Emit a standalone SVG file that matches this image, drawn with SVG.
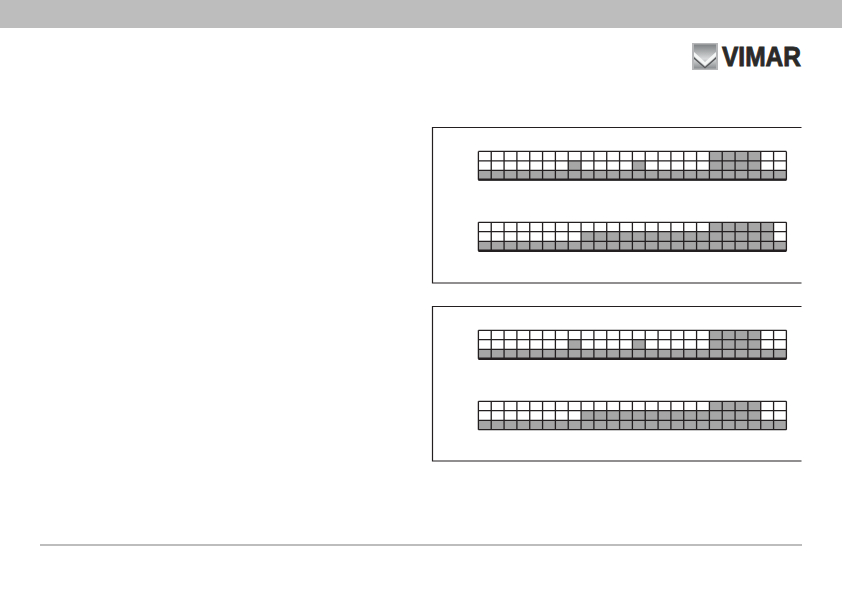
<svg xmlns="http://www.w3.org/2000/svg" width="842" height="590" viewBox="0 0 842 590">
<style>
.f{fill:#a6a6a6}
.l{fill:none;stroke:#231f20;stroke-width:1.3}
.b{fill:none;stroke:#231f20;stroke-width:1.2}
.t{fill:none;stroke:#231f20;stroke-width:2.4}
</style>
<defs>
<linearGradient id="ig" x1="0" y1="0" x2="0" y2="1"><stop offset="0" stop-color="#7f8284"/><stop offset="0.6" stop-color="#d8dadb"/><stop offset="1" stop-color="#8a8d8f"/></linearGradient>
<path id="lines" d="M0 0H308M0 9.4H308M0 19H308M0 28.4H308M0 0V28.4M12.83 0V28.4M25.67 0V28.4M38.5 0V28.4M51.33 0V28.4M64.17 0V28.4M77 0V28.4M89.83 0V28.4M102.67 0V28.4M115.5 0V28.4M128.33 0V28.4M141.17 0V28.4M154 0V28.4M166.83 0V28.4M179.67 0V28.4M192.5 0V28.4M205.33 0V28.4M218.17 0V28.4M231 0V28.4M243.83 0V28.4M256.67 0V28.4M269.5 0V28.4M282.33 0V28.4M295.17 0V28.4M308 0V28.4"/>
<g id="rowA"><rect class="f" x="231" y="0" width="51.33" height="19"/><rect class="f" x="89.83" y="9.4" width="12.83" height="9.6"/><rect class="f" x="154" y="9.4" width="12.83" height="9.6"/><rect class="f" x="0" y="19" width="308" height="9.4"/></g>
</defs>
<rect id="header" x="0" y="0" width="842" height="28" fill="#bdbdbd"/>
<g id="logo">
<rect x="692" y="43" width="26" height="27" fill="#b5b7b8"/>
<rect x="694" y="44.5" width="22" height="24" fill="url(#ig)"/>
<path d="M694 52L705 62L716 52V56L705 66L694 56Z" fill="#f4f5f5"/>
<path d="M694 57L705 67L716 57V59L705 68.5L694 59Z" fill="#555759"/>
<text x="722" y="65.7" font-family="Liberation Sans, Arial, sans-serif" font-weight="700" font-size="28" textLength="79" lengthAdjust="spacingAndGlyphs" fill="#2b2a29" stroke="#2b2a29" stroke-width="0.9">VIMAR</text>
</g>
<g id="panel-1">
<path class="b" d="M801.5 127.5H432.5V283H801.5"/>
<g id="grid-1" transform="translate(478.4 151.4)"><use href="#rowA"/><use href="#lines" class="l"/><path class="t" d="M0 28.2H308"/></g>
<g id="grid-2" transform="translate(478.4 222.3)">
<rect class="f" x="231" y="0" width="64.17" height="19"/><rect class="f" x="102.67" y="9.4" width="128.33" height="9.6"/><rect class="f" x="0" y="19" width="308" height="9.4"/>
<use href="#lines" class="l"/><path class="t" d="M0 28.4H308"/></g>
</g>
<g id="panel-2">
<path class="b" d="M801.5 306.5H432.5V461H801.5"/>
<g id="grid-3" transform="translate(478.4 330.3)"><use href="#rowA"/><use href="#lines" class="l"/><path class="t" d="M0 28.4H308"/></g>
<g id="grid-4" transform="translate(478.4 401.3)">
<rect class="f" x="231" y="0" width="51.33" height="19"/><rect class="f" x="102.67" y="9.4" width="128.33" height="9.6"/><rect class="f" x="0" y="19" width="308" height="9.4"/>
<use href="#lines" class="l"/></g>
</g>
<rect id="footer" x="40" y="544" width="762" height="2" fill="#bdbdbd"/>
</svg>
